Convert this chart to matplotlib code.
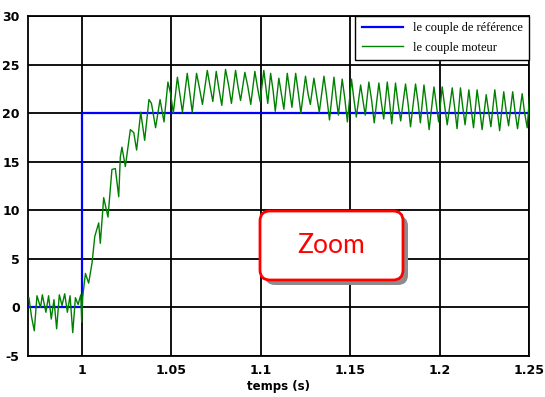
import matplotlib
matplotlib.use("Agg")
import matplotlib.pyplot as plt
from matplotlib.patches import FancyBboxPatch
from matplotlib.transforms import IdentityTransform

plt.rcParams["axes.unicode_minus"] = False

# reference torque (step at t = 1 s)
t_ref = [0.97, 1.0, 1.0, 1.25]
y_ref = [0.0, 0.0, 20.0, 20.0]

# motor torque (peaks / troughs)
t_motor = [
    0.9705, 0.9720, 0.9735, 0.9750, 0.9770, 0.9780, 0.9800, 0.9815, 0.9830, 0.9845,
    0.9860, 0.9875, 0.9890, 0.9905, 0.9920, 0.9935, 0.9950, 0.9965, 0.9980, 0.9995,
    1.0000, 1.0005, 1.0021, 1.0039, 1.0058, 1.0073, 1.0095, 1.0104, 1.0123, 1.0147,
    1.0169, 1.0188, 1.0207, 1.0216, 1.0225, 1.0244, 1.0272, 1.0291, 1.0307, 1.0330,
    1.0352, 1.0376, 1.0390, 1.0413, 1.0438, 1.0460, 1.0482, 1.0497, 1.0512, 1.0535,
    1.0563, 1.0590, 1.0618,
    1.0642, 1.0658, 1.0675, 1.0702, 1.0717, 1.0733, 1.0752, 1.0767, 1.0783,
    1.0804, 1.0820, 1.0837, 1.0860, 1.0874, 1.0888, 1.0912, 1.0928, 1.0945,
    1.0968, 1.0983, 1.0997, 1.1018, 1.1030, 1.1040, 1.1056, 1.1070, 1.1082,
    1.1102, 1.1116, 1.1130, 1.1149, 1.1162, 1.1175, 1.1196, 1.1210, 1.1225,
    1.1251, 1.1265, 1.1278, 1.1298, 1.1313, 1.1328, 1.1354, 1.1368, 1.1385,
    1.1410, 1.1423, 1.1435, 1.1456, 1.1470, 1.1485, 1.1508, 1.1521, 1.1535,
    1.1559, 1.1572, 1.1585, 1.1605, 1.1620, 1.1635, 1.1661, 1.1674, 1.1688,
    1.1708, 1.1720, 1.1733, 1.1754, 1.1768, 1.1783, 1.1810, 1.1824, 1.1838,
    1.1866, 1.1880, 1.1893, 1.1913, 1.1927, 1.1942, 1.1969, 1.1982, 1.1995,
    1.2015, 1.2029, 1.2043, 1.2071, 1.2085, 1.2098, 1.2117, 1.2130, 1.2143,
    1.2164, 1.2177, 1.2190, 1.2210, 1.2224, 1.2238, 1.2261, 1.2274, 1.2287,
    1.2309, 1.2322, 1.2336, 1.2359, 1.2372, 1.2386, 1.2409, 1.2422, 1.2436,
    1.2462, 1.2475, 1.2490, 1.2503,
]
y_motor = [
    1.0, -1.0, -2.4, 1.2, 0.0, 1.3, -0.5, 1.2, -1.2, 0.8,
    -2.2, 1.3, 0.2, 1.4, -0.5, 1.2, -2.6, 1.0, 0.3, 1.3,
    -1.5, 1.0, 3.5, 2.5, 4.6, 7.3, 8.7, 6.6, 11.3, 9.3,
    14.2, 14.3, 11.4, 15.5, 16.5, 14.5, 18.3, 18.0, 16.2, 20.1,
    17.2, 21.4, 21.0, 18.5, 21.4, 19.1, 23.2, 22.0, 20.0, 23.7,
    20.1, 24.1, 20.1,
    24.1, 22.6, 20.9, 24.4, 22.8, 21.2, 24.3, 22.5, 20.8,
    24.5, 23.0, 21.0, 24.4, 22.7, 21.3, 24.2, 22.8, 20.9,
    24.3, 22.6, 21.2, 24.4, 22.5, 21.0, 24.1, 22.3, 20.2,
    23.6, 22.0, 20.4, 24.1, 22.4, 20.6, 24.1, 22.2, 20.0,
    23.8, 22.0, 20.9, 23.6, 21.8, 20.1, 23.8, 21.9, 19.3,
    23.7, 21.5, 19.8, 23.5, 21.6, 19.1, 23.5, 21.5, 19.6,
    22.9, 21.3, 19.8, 23.2, 21.4, 19.0, 23.1, 21.2, 19.4,
    23.2, 21.3, 18.9, 23.1, 21.0, 19.2, 23.0, 21.0, 18.6,
    23.0, 21.1, 19.0, 22.9, 20.8, 18.3, 22.7, 20.9, 19.1,
    22.7, 20.7, 18.8, 22.6, 20.5, 18.4, 22.6, 20.6, 18.8,
    22.4, 20.4, 18.5, 22.4, 20.5, 18.3, 21.9, 20.2, 18.6,
    22.4, 20.4, 18.2, 22.2, 20.3, 18.7, 22.2, 20.2, 18.4,
    22.0, 20.1, 18.5, 21.7,
]

x_ticks = [1.0, 1.05, 1.1, 1.15, 1.2, 1.25]
x_labels = ["1", "1.05", "1.1", "1.15", "1.2", "1.25"]
y_ticks = [-5, 0, 5, 10, 15, 20, 25, 30]

fig = plt.figure(figsize=(5.45, 3.97), dpi=100)
ax = fig.add_axes([0.0514, 0.1033, 0.9192, 0.8564])

ax.plot(t_ref, y_ref, color="#0000ff", lw=1.6, label="le couple de référence", zorder=3)
ax.plot(t_motor, y_motor, color="#008000", lw=1.0, label="le couple moteur", zorder=4)

ax.set_xlim(0.97, 1.25)
ax.set_ylim(-5, 30)
ax.set_xticks(x_ticks)
ax.set_xticklabels(x_labels)
ax.set_yticks(y_ticks)
ax.tick_params(length=0, labelsize=9, pad=6)
for lab in ax.get_xticklabels() + ax.get_yticklabels():
    lab.set_fontweight("bold")
ax.grid(True, color="black", lw=1.3)
for s in ax.spines.values():
    s.set_color("black")
    s.set_linewidth(1.3)
ax.set_xlabel("temps (s)", fontsize=8.5, fontweight="bold", labelpad=2)

leg = ax.legend(loc="upper right", borderaxespad=0, fancybox=False,
                prop={"family": "Liberation Serif", "size": 9},
                handlelength=3.3, labelspacing=0.6, borderpad=0.5)
leg.get_frame().set_edgecolor("black")
leg.get_frame().set_linewidth(1.0)
leg.get_frame().set_alpha(1)

# "Zoom" call-out box (pixel coordinates)
shadow = FancyBboxPatch((265, 112), 143, 69, boxstyle="round,pad=0,rounding_size=10",
                        transform=IdentityTransform(), facecolor="#8c8c8c",
                        edgecolor="none", zorder=9)
box = FancyBboxPatch((260, 117), 143, 69, boxstyle="round,pad=0,rounding_size=10",
                     transform=IdentityTransform(), facecolor="white",
                     edgecolor="#ff0000", lw=2.0, zorder=10)
fig.patches.extend([shadow, box])
fig.text(331.5 / 545, (117 + 34.5) / 397, "Zoom", color="#ff0000", fontsize=19,
         family="Lato", ha="center", va="center", zorder=11)

fig.savefig("out.png", dpi=100)
